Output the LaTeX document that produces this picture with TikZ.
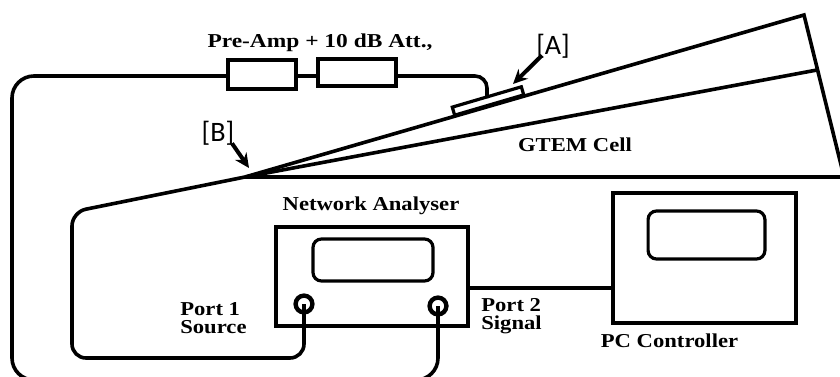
\documentclass[tikz,border=0pt]{standalone}
\usepackage{fontspec}
\setmainfont{Liberation Serif}
\newfontfamily\tagfont{Carlito}
\usetikzlibrary{arrows.meta,positioning}

\begin{document}
\begin{tikzpicture}[
    x=0.25mm, y=-0.25mm,
    >=Stealth,
    unitBox/.style={
        rectangle, draw=black, line width=1mm,
        minimum width=1.7cm, minimum height=0.7cm
    },
    screenBox/.style={
        rectangle, rounded corners=6pt,
        draw=black, line width=0.8mm
    },
    portNode/.style={
        circle, draw=black, line width=1.1mm, fill=white,
        minimum size=0.42cm, inner sep=0pt
    },
    plateNode/.style={
        rectangle, draw=black, line width=0.8mm, fill=white,
        minimum width=1.8cm, minimum height=0.21cm,
        inner sep=0pt, rotate=16.4
    },
    label/.style={font=\fontsize{14pt}{12.6pt}\selectfont\bfseries, align=left, inner sep=0pt},
    tag/.style={font=\tagfont\fontsize{20pt}{22pt}\selectfont, inner sep=0pt},
    wire/.style={draw=black, line width=0.9mm, rounded corners=0.55cm},
    cell/.style={draw=black, line width=0.9mm},
    pointer/.style={-{Stealth[length=3.6mm,width=3.4mm]}, draw=black, line width=1mm}
]

\useasboundingbox (0,0) rectangle (840,376);

% Layout plan: cell on top right, instruments below, all at image coordinates.
\coordinate (Apex) at (245,177);
\coordinate (TopCorner) at (804,15);
\coordinate (MidEnd) at (817,70);
\coordinate (BaseEnd) at (844,177);
\coordinate (TopWire) at (300,76);

\node[unitBox, minimum width=1.68cm, minimum height=0.74cm] (PreAmp) at (262,74.5) {};
\node[unitBox, minimum width=1.95cm, minimum height=0.66cm] (Atten) at (357,72.5) {};
\node[label, xscale=1.19] (AmpLabel) at (320,43) {Pre-Amp + 10 dB Att.,};

\node[unitBox, minimum width=4.8cm, minimum height=2.47cm] (Analyser) at (371.5,276.5) {};
\node[screenBox, minimum width=3cm, minimum height=1.05cm] (AnaScreen) at (373,260) {};
\node[portNode] (PortOne) at (304,304) {};
\node[portNode] (PortTwo) at (438,306) {};
\node[label, xscale=1.15] (AnaLabel) at (371,206) {Network Analyser};
\node[label, xscale=1.15, anchor=west] (OneLabel) at (180,318) {Port 1\\Source};
\node[label, xscale=1.15, anchor=west] (TwoLabel) at (481,316) {Port 2\\Signal};

\node[unitBox, minimum width=4.58cm, minimum height=3.25cm] (Controller) at (704.5,258) {};
\node[screenBox, minimum width=2.92cm, minimum height=1.2cm] (PcScreen) at (706.5,235) {};
\node[label, xscale=1.15] (PcLabel) at (669.5,341) {PC Controller};

\node[label, xscale=1.15] (CellLabel) at (575,145) {GTEM Cell};
\node[tag] (TagA) at (553,46) {[A]};
\node[tag] (TagB) at (218,133) {[B]};

% cell outline
\draw[cell] (Apex) -- (TopCorner) -- (BaseEnd) -- (Apex);
\draw[cell] (Apex) -- (MidEnd);
\node[plateNode] (Plate) at (488,101) {};

% cables
\draw[wire] (PreAmp.west |- TopWire) -- (12,76) -- (12,380) -- (438,380) -- (PortTwo.center);
\draw[wire] (TopWire -| PreAmp.east) -- (TopWire -| Atten.west);
\draw[wire, rounded corners=0.3cm] (TopWire -| Atten.east) -- (487,76) -- (487,98);
\draw[wire, rounded corners=0.35cm] (Apex) -- (72,212) -- (72,358) -- (304,358) -- (PortOne.center);
\draw[cell] (Analyser.east |- 0,288) -- (Controller.west |- 0,288);

% markers
\draw[pointer] (TagA.south) ++(-11,-3) -- (513,84);
\draw[pointer] (TagB.south) ++(14,-2) -- (249,168);

\end{tikzpicture}
\end{document}
